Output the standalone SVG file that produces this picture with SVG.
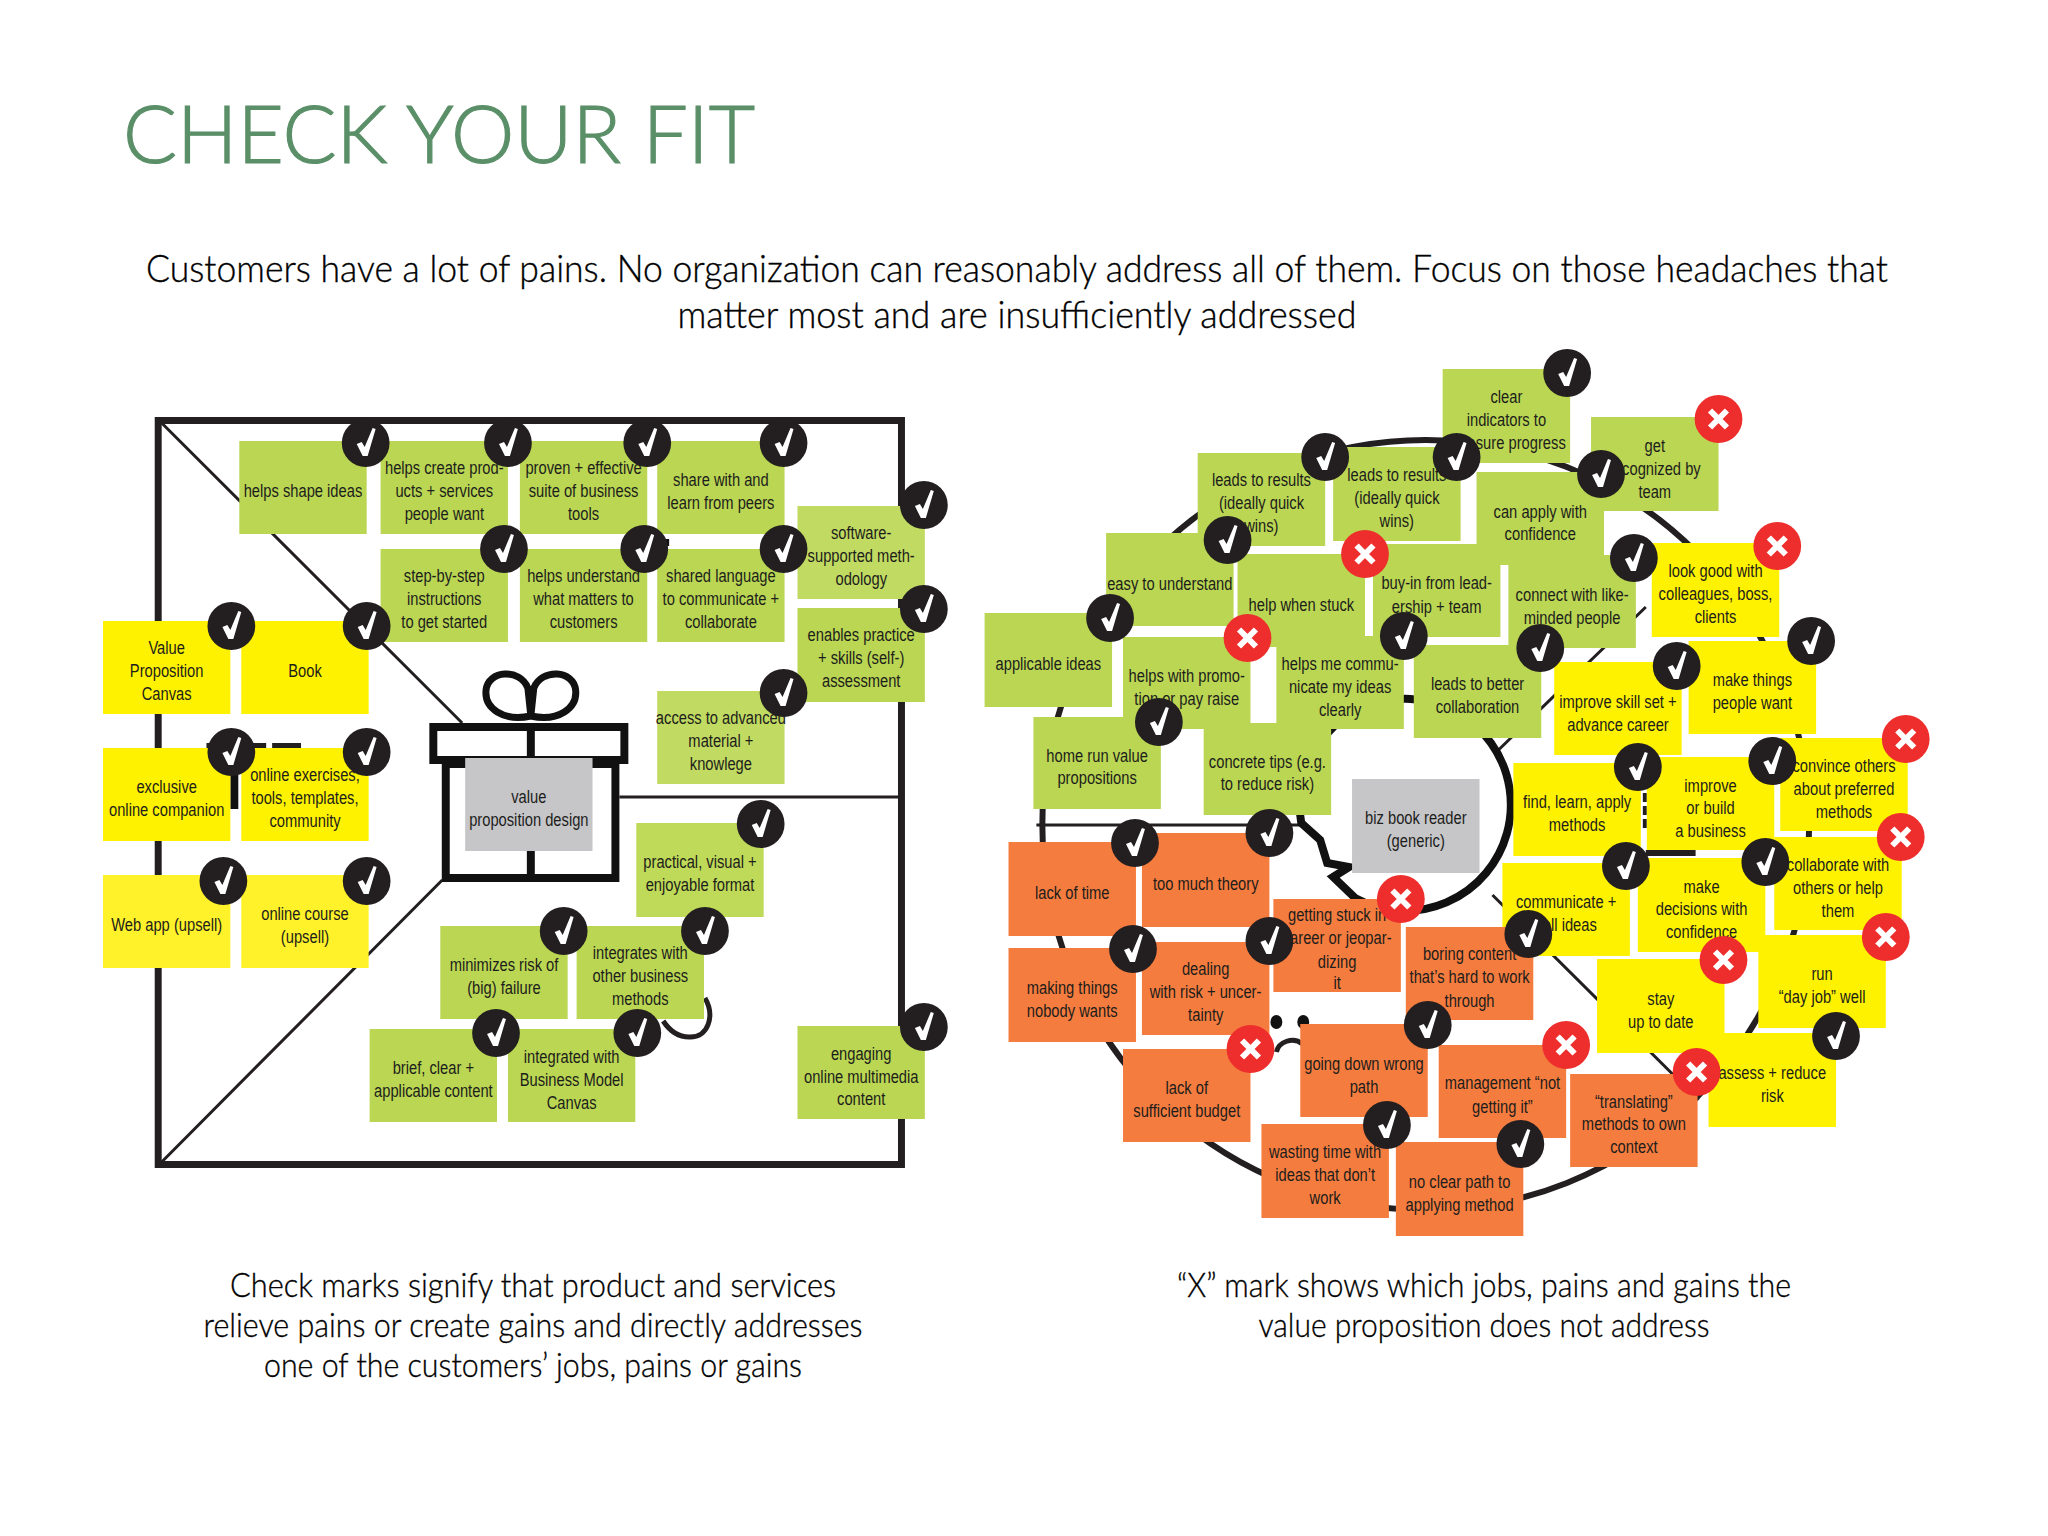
<svg xmlns="http://www.w3.org/2000/svg" width="2048" height="1536" viewBox="0 0 2048 1536">
<style>
.g{fill:#bad653}.y{fill:#fff200}.o{fill:#f47c3f}.s{fill:#c6c6c8}
.t{font-family:"Liberation Sans",Arial,sans-serif;font-size:18.5px;fill:#1d1d1b;text-anchor:middle;transform-box:fill-box;transform-origin:center;transform:scaleX(.8)}
.h{font-family:Lato,"Liberation Sans",sans-serif;font-weight:300;fill:#000;stroke:#000;stroke-width:.35px;text-anchor:middle;font-size:37px}
.c{font-family:Lato,"Liberation Sans",sans-serif;font-weight:300;fill:#000;stroke:#000;stroke-width:.35px;text-anchor:middle;font-size:33px}
.l{fill:none;stroke:#231f20}
</style>
<defs>
<g id="ck"><circle r="24" fill="#231f20"/><path d="M-9,1 L-4,-1 L-1,4 L7,-15 L10,-14 L2,13 L-3,13 Z" fill="#fff"/></g>
<g id="xx"><circle r="24" fill="#ee2e2c"/><path d="M-8.500,-8.500 L8.500,8.500 M8.500,-8.500 L-8.500,8.500" stroke="#fff" stroke-width="6" fill="none"/></g>
</defs>
<rect width="2048" height="1536" fill="#fff"/>
<text x="123" y="163" textLength="632" lengthAdjust="spacingAndGlyphs" style="font-family:Lato,'Liberation Sans',sans-serif;font-weight:300;font-size:80px;fill:#5a8f68;stroke:#5a8f68;stroke-width:1.200px">CHECK YOUR FIT</text>
<text class="h" x="1017" y="282" textLength="1742" lengthAdjust="spacingAndGlyphs">Customers have a lot of pains. No organization can reasonably address all of them. Focus on those headaches that</text>
<text class="h" x="1017" y="328" textLength="679" lengthAdjust="spacingAndGlyphs">matter most and are insufficiently addressed</text>
<text class="c" x="533" y="1297" textLength="606" lengthAdjust="spacingAndGlyphs">Check marks signify that product and services</text>
<text class="c" x="533" y="1337" textLength="659" lengthAdjust="spacingAndGlyphs">relieve pains or create gains and directly addresses</text>
<text class="c" x="533" y="1377" textLength="538" lengthAdjust="spacingAndGlyphs">one of the customers’ jobs, pains or gains</text>
<text class="c" x="1484" y="1297" textLength="614" lengthAdjust="spacingAndGlyphs">“X” mark shows which jobs, pains and gains the</text>
<text class="c" x="1484" y="1337" textLength="451" lengthAdjust="spacingAndGlyphs">value proposition does not address</text>

<g id="diagram-left" transform="translate(0.500 0) scale(0.9950 1)">
<g id="connectors-left">
<rect class="l" x="158.500" y="420.500" width="747" height="744" stroke-width="7"/>
<path class="l" d="M162,423 L464,723 M162,1162 L444,880 M622,797 H905" stroke-width="3"/>
<path class="l" d="M207,746 H302" stroke-width="6" stroke-dasharray="30 8 22 6 30"/>
<path d="M231,770 h8 v39 h-8 Z M668,539 h4 v7 h-4 Z" fill="#111"/>
<path class="l" d="M708,998 C718,1015 712,1038 692,1037 C680,1037 672,1030 666,1021" stroke-width="5"/>
</g>
<g id="gift" fill="none" stroke="#111">
<rect x="435" y="727" width="192" height="33" stroke-width="8"/>
<rect x="447.500" y="764" width="170.500" height="114" stroke-width="8"/>
<path d="M533,727 V878" stroke-width="8"/>
<path d="M533,716 C505,722 486,708 488,690 C490,670 522,668 530,688 Z M533,716 C561,722 580,708 578,690 C576,670 544,668 536,688 Z" stroke-width="7"/>
</g>
<g id="shape-helps-shape"><rect class="g" x="240" y="441" width="128" height="93"/><text class="t" x="304" y="497.500">helps shape ideas</text></g>
<g id="helps-create"><rect class="g" x="382" y="441" width="128" height="93"/><text class="t" x="446" y="474.500">helps create prod-</text><text class="t" x="446" y="497.500">ucts + services</text><text class="t" x="446" y="520.500">people want</text></g>
<g id="proven"><rect class="g" x="522" y="441" width="128" height="93"/><text class="t" x="586" y="474.500">proven + effective</text><text class="t" x="586" y="497.500">suite of business</text><text class="t" x="586" y="520.500">tools</text></g>
<g id="share"><rect class="g" x="660" y="441" width="128" height="93"/><text class="t" x="724" y="486">share with and</text><text class="t" x="724" y="509">learn from peers</text></g>
<g id="step"><rect class="g" x="382" y="549" width="128" height="93"/><text class="t" x="446" y="582.500">step-by-step</text><text class="t" x="446" y="605.500">instructions</text><text class="t" x="446" y="628.500">to get started</text></g>
<g id="understand"><rect class="g" x="522" y="549" width="128" height="93"/><text class="t" x="586" y="582.500">helps understand</text><text class="t" x="586" y="605.500">what matters to</text><text class="t" x="586" y="628.500">customers</text></g>
<g id="shared"><rect class="g" x="660" y="549" width="128" height="93"/><text class="t" x="724" y="582.500">shared language</text><text class="t" x="724" y="605.500">to communicate +</text><text class="t" x="724" y="628.500">collaborate</text></g>
<g id="software"><rect x="801" y="506" width="128" height="93" fill="#c1da62"/><text class="t" x="865" y="539.500">software-</text><text class="t" x="865" y="562.500">supported meth-</text><text class="t" x="865" y="585.500">odology</text></g>
<g id="enables"><rect class="g" x="801" y="608" width="128" height="94"/><text class="t" x="865" y="641.500">enables practice</text><text class="t" x="865" y="664.500">+ skills (self-)</text><text class="t" x="865" y="687.500">assessment</text></g>
<g id="access"><rect x="660" y="691" width="128" height="93" fill="#c1da62"/><text class="t" x="724" y="724.500">access to advanced</text><text class="t" x="724" y="747.500">material +</text><text class="t" x="724" y="770.500">knowlege</text></g>
<g id="canvas"><rect class="y" x="103" y="621" width="128" height="93"/><text class="t" x="167" y="654.500">Value</text><text class="t" x="167" y="677.500">Proposition</text><text class="t" x="167" y="700.500">Canvas</text></g>
<g id="book"><rect class="y" x="242" y="621" width="128" height="93"/><text class="t" x="306" y="677.500">Book</text></g>
<g id="companion"><rect class="y" x="103" y="748" width="128" height="93"/><text class="t" x="167" y="793">exclusive</text><text class="t" x="167" y="816">online companion</text></g>
<g id="exercises"><rect class="y" x="242" y="748" width="128" height="93"/><text class="t" x="306" y="781.500">online exercises,</text><text class="t" x="306" y="804.500">tools, templates,</text><text class="t" x="306" y="827.500">community</text></g>
<g id="webapp"><rect x="103" y="875" width="128" height="93" fill="#fff22a"/><text class="t" x="167" y="931.500">Web app (upsell)</text></g>
<g id="course"><rect x="242" y="875" width="128" height="93" fill="#fff22a"/><text class="t" x="306" y="920">online course</text><text class="t" x="306" y="943">(upsell)</text></g>
<g id="vp-design"><rect class="s" x="467" y="758" width="128" height="93"/><text class="t" x="531" y="803">value</text><text class="t" x="531" y="826">proposition design</text></g>
<g id="practical"><rect x="639" y="823" width="128" height="94" fill="#bfd958"/><text class="t" x="703" y="868">practical, visual +</text><text class="t" x="703" y="891">enjoyable format</text></g>
<g id="minimizes"><rect class="g" x="442" y="926" width="128" height="93"/><text class="t" x="506" y="971">minimizes risk of</text><text class="t" x="506" y="994">(big) failure</text></g>
<g id="integrates"><rect class="g" x="579" y="926" width="128" height="93"/><text class="t" x="643" y="959.500">integrates with</text><text class="t" x="643" y="982.500">other business</text><text class="t" x="643" y="1005.500">methods</text></g>
<g id="brief"><rect class="g" x="371" y="1029" width="128" height="93"/><text class="t" x="435" y="1074">brief, clear +</text><text class="t" x="435" y="1097">applicable content</text></g>
<g id="integrated"><rect class="g" x="510" y="1029" width="128" height="93"/><text class="t" x="574" y="1063">integrated with</text><text class="t" x="574" y="1086">Business Model</text><text class="t" x="574" y="1109">Canvas</text></g>
<g id="engaging"><rect class="g" x="801" y="1026" width="128" height="93"/><text class="t" x="865" y="1060">engaging</text><text class="t" x="865" y="1083">online multimedia</text><text class="t" x="865" y="1105">content</text></g>
<g id="marks-left">
<use href="#ck" x="367" y="443"/><use href="#ck" x="510" y="443"/><use href="#ck" x="650" y="443"/><use href="#ck" x="787" y="443"/>
<use href="#ck" x="506" y="549"/><use href="#ck" x="647" y="549"/><use href="#ck" x="787" y="549"/><use href="#ck" x="928" y="505"/>
<use href="#ck" x="928" y="609"/><use href="#ck" x="787" y="693"/><use href="#ck" x="232" y="626"/><use href="#ck" x="368" y="626"/>
<use href="#ck" x="232" y="752"/><use href="#ck" x="368" y="752"/><use href="#ck" x="224" y="881"/><use href="#ck" x="368" y="881"/>
<use href="#ck" x="764" y="824"/><use href="#ck" x="566" y="931"/><use href="#ck" x="708" y="931"/><use href="#ck" x="498" y="1033"/>
<use href="#ck" x="640" y="1033"/><use href="#ck" x="928" y="1027"/>
</g>
</g>

<g id="diagram-right" transform="translate(3.740 0) scale(0.9958 1)">
<g id="connectors-right">
<circle class="l" cx="1428" cy="825" r="385" stroke-width="6"/>
<path class="l" d="M1037,825 H1307 M1501,750 L1649,607 M1495,895 L1702,1100" stroke-width="3"/>
<path class="l" d="M1649,853 H1699" stroke-width="6"/>
<path class="l" d="M1648,793 V830" stroke-width="4" stroke-dasharray="9 4"/>
<path d="M1303,823 L1322,840 L1329,863 L1351,867 L1335,877 L1357,898 A106,106 0 1 0 1303,823 Z" fill="#fff" stroke="#111" stroke-width="8"/>
<ellipse cx="1278" cy="1022" rx="6" ry="7" fill="#111"/>
<ellipse cx="1305" cy="1022" rx="6" ry="7" fill="#111"/>
<path class="l" d="M1278,1052 C1280,1042 1295,1036 1304,1044" stroke-width="5"/>
</g>
<g id="clear"><rect class="g" x="1445" y="369" width="128" height="94"/><text class="t" x="1509" y="403">clear</text><text class="t" x="1509" y="426">indicators to</text><text class="t" x="1509" y="449">measure progress</text></g>
<g id="get"><rect class="g" x="1594" y="417" width="128" height="94"/><text class="t" x="1658" y="452">get</text><text class="t" x="1658" y="475">recognized by</text><text class="t" x="1658" y="498">team</text></g>
<g id="leads1"><rect class="g" x="1199" y="453" width="128" height="93"/><text class="t" x="1263" y="486">leads to results</text><text class="t" x="1263" y="509">(ideally quick</text><text class="t" x="1263" y="532">wins)</text></g>
<g id="leads2"><rect class="g" x="1335" y="447" width="128" height="94"/><text class="t" x="1399" y="481">leads to results</text><text class="t" x="1399" y="504">(ideally quick</text><text class="t" x="1399" y="527">wins)</text></g>
<g id="can-apply"><rect class="g" x="1479" y="472" width="128" height="93"/><text class="t" x="1543" y="518">can apply with</text><text class="t" x="1543" y="540">confidence</text></g>
<g id="easy"><rect class="g" x="1107" y="533" width="128" height="93"/><text class="t" x="1171" y="590">easy to understand</text></g>
<g id="stuck"><rect class="g" x="1239" y="554" width="128" height="93"/><text class="t" x="1303" y="611">help when stuck</text></g>
<g id="buy-in"><rect class="g" x="1375" y="544" width="128" height="93"/><text class="t" x="1439" y="589">buy-in from lead-</text><text class="t" x="1439" y="613">ership + team</text></g>
<g id="connect"><rect class="g" x="1511" y="555" width="128" height="93"/><text class="t" x="1575" y="601">connect with like-</text><text class="t" x="1575" y="624">minded people</text></g>
<g id="look"><rect class="y" x="1655" y="543" width="128" height="94"/><text class="t" x="1719" y="577">look good with</text><text class="t" x="1719" y="600">colleagues, boss,</text><text class="t" x="1719" y="623">clients</text></g>
<g id="applicable"><rect class="g" x="985" y="613" width="128" height="94"/><text class="t" x="1049" y="670">applicable ideas</text></g>
<g id="promo"><rect class="g" x="1124" y="637" width="128" height="92"/><text class="t" x="1188" y="682">helps with promo-</text><text class="t" x="1188" y="705">tion or pay raise</text></g>
<g id="helps-me"><rect class="g" x="1278" y="636" width="128" height="93"/><text class="t" x="1342" y="670">helps me commu-</text><text class="t" x="1342" y="693">nicate my ideas</text><text class="t" x="1342" y="716">clearly</text></g>
<g id="better"><rect class="g" x="1416" y="645" width="128" height="93"/><text class="t" x="1480" y="690">leads to better</text><text class="t" x="1480" y="713">collaboration</text></g>
<g id="skill"><rect class="y" x="1557" y="662" width="128" height="93"/><text class="t" x="1621" y="708">improve skill set +</text><text class="t" x="1621" y="731">advance career</text></g>
<g id="things"><rect class="y" x="1692" y="641" width="128" height="93"/><text class="t" x="1756" y="686">make things</text><text class="t" x="1756" y="709">people want</text></g>
<g id="home-run"><rect class="g" x="1034" y="717" width="128" height="92"/><text class="t" x="1098" y="762">home run value</text><text class="t" x="1098" y="784">propositions</text></g>
<g id="concrete"><rect class="g" x="1205" y="723" width="128" height="92"/><text class="t" x="1269" y="768">concrete tips (e.g.</text><text class="t" x="1269" y="790">to reduce risk)</text></g>
<g id="find"><rect class="y" x="1516" y="763" width="128" height="93"/><text class="t" x="1580" y="808">find, learn, apply</text><text class="t" x="1580" y="831">methods</text></g>
<g id="build"><rect class="y" x="1650" y="757" width="128" height="93"/><text class="t" x="1714" y="792">improve</text><text class="t" x="1714" y="814">or build</text><text class="t" x="1714" y="837">a business</text></g>
<g id="convince"><rect class="y" x="1784" y="738" width="128" height="93"/><text class="t" x="1848" y="772">convince others</text><text class="t" x="1848" y="795">about preferred</text><text class="t" x="1848" y="818">methods</text></g>
<g id="biz"><rect class="s" x="1354" y="779" width="128" height="94"/><text class="t" x="1418" y="824">biz book reader</text><text class="t" x="1418" y="847">(generic)</text></g>
<g id="communicate"><rect class="y" x="1505" y="863" width="128" height="93"/><text class="t" x="1569" y="908">communicate +</text><text class="t" x="1569" y="931">sell ideas</text></g>
<g id="decisions"><rect class="y" x="1641" y="858" width="128" height="94"/><text class="t" x="1705" y="893">make</text><text class="t" x="1705" y="915">decisions with</text><text class="t" x="1705" y="938">confidence</text></g>
<g id="collaborate"><rect class="y" x="1778" y="837" width="128" height="93"/><text class="t" x="1842" y="871">collaborate with</text><text class="t" x="1842" y="894">others or help</text><text class="t" x="1842" y="917">them</text></g>
<g id="assess"><rect class="y" x="1712" y="1033" width="128" height="94"/><text class="t" x="1776" y="1079">assess + reduce</text><text class="t" x="1776" y="1102">risk</text></g>
<g id="stay"><rect class="y" x="1600" y="959" width="128" height="94"/><text class="t" x="1664" y="1005">stay</text><text class="t" x="1664" y="1028">up to date</text></g>
<g id="run"><rect class="y" x="1762" y="935" width="128" height="93"/><text class="t" x="1826" y="980">run</text><text class="t" x="1826" y="1003">“day job” well</text></g>
<g id="lack-time"><rect class="o" x="1009" y="842" width="128" height="94"/><text class="t" x="1073" y="899">lack of time</text></g>
<g id="theory"><rect class="o" x="1143" y="833" width="128" height="94"/><text class="t" x="1207" y="890">too much theory</text></g>
<g id="making"><rect class="o" x="1009" y="948" width="128" height="94"/><text class="t" x="1073" y="994">making things</text><text class="t" x="1073" y="1017">nobody wants</text></g>
<g id="dealing"><rect class="o" x="1143" y="942" width="128" height="93"/><text class="t" x="1207" y="975">dealing</text><text class="t" x="1207" y="998">with risk + uncer-</text><text class="t" x="1207" y="1021">tainty</text></g>
<g id="getting"><rect class="o" x="1275" y="899" width="128" height="93"/><text class="t" x="1339" y="921">getting stuck in</text><text class="t" x="1339" y="944">career or jeopar-</text><text class="t" x="1339" y="968">dizing</text><text class="t" x="1339" y="989">it</text></g>
<g id="boring"><rect class="o" x="1408" y="927" width="128" height="93"/><text class="t" x="1472" y="960">boring content</text><text class="t" x="1472" y="983">that’s hard to work</text><text class="t" x="1472" y="1007">through</text></g>
<g id="budget"><rect class="o" x="1124" y="1049" width="128" height="93"/><text class="t" x="1188" y="1094">lack of</text><text class="t" x="1188" y="1117">sufficient budget</text></g>
<g id="going"><rect class="o" x="1302" y="1024" width="128" height="93"/><text class="t" x="1366" y="1070">going down wrong</text><text class="t" x="1366" y="1093">path</text></g>
<g id="management"><rect class="o" x="1441" y="1045" width="128" height="93"/><text class="t" x="1505" y="1089">management “not</text><text class="t" x="1505" y="1113">getting it”</text></g>
<g id="translating"><rect class="o" x="1573" y="1074" width="128" height="93"/><text class="t" x="1637" y="1108">“translating”</text><text class="t" x="1637" y="1130">methods to own</text><text class="t" x="1637" y="1153">context</text></g>
<g id="wasting"><rect class="o" x="1263" y="1124" width="128" height="94"/><text class="t" x="1327" y="1158">wasting time with</text><text class="t" x="1327" y="1181">ideas that don’t</text><text class="t" x="1327" y="1204">work</text></g>
<g id="no-clear"><rect class="o" x="1398" y="1142" width="128" height="94"/><text class="t" x="1462" y="1188">no clear path to</text><text class="t" x="1462" y="1211">applying method</text></g>
<g id="marks-right">
<use href="#ck" x="1570" y="373"/><use href="#xx" x="1722" y="419"/><use href="#ck" x="1327" y="457"/><use href="#ck" x="1459" y="457"/>
<use href="#ck" x="1604" y="474"/><use href="#ck" x="1229" y="540"/><use href="#xx" x="1367" y="554"/><use href="#ck" x="1637" y="558"/>
<use href="#xx" x="1781" y="546"/><use href="#ck" x="1111" y="618"/><use href="#xx" x="1249" y="638"/><use href="#ck" x="1406" y="636"/>
<use href="#ck" x="1543" y="648"/><use href="#ck" x="1680" y="666"/><use href="#ck" x="1815" y="641"/><use href="#ck" x="1160" y="722"/>
<use href="#ck" x="1641" y="767"/><use href="#ck" x="1776" y="761"/><use href="#xx" x="1910" y="739"/><use href="#ck" x="1271" y="833"/>
<use href="#ck" x="1136" y="843"/><use href="#xx" x="1905" y="837"/><use href="#ck" x="1629" y="866"/><use href="#ck" x="1769" y="862"/>
<use href="#xx" x="1403" y="899"/><use href="#ck" x="1531" y="934"/><use href="#ck" x="1271" y="941"/><use href="#ck" x="1134" y="949"/>
<use href="#xx" x="1890" y="937"/><use href="#xx" x="1727" y="960"/><use href="#ck" x="1430" y="1025"/><use href="#ck" x="1840" y="1036"/>
<use href="#xx" x="1252" y="1049"/><use href="#xx" x="1569" y="1045"/><use href="#xx" x="1700" y="1072"/><use href="#ck" x="1389" y="1125"/>
<use href="#ck" x="1523" y="1144"/>
</g>
</g>
</svg>
